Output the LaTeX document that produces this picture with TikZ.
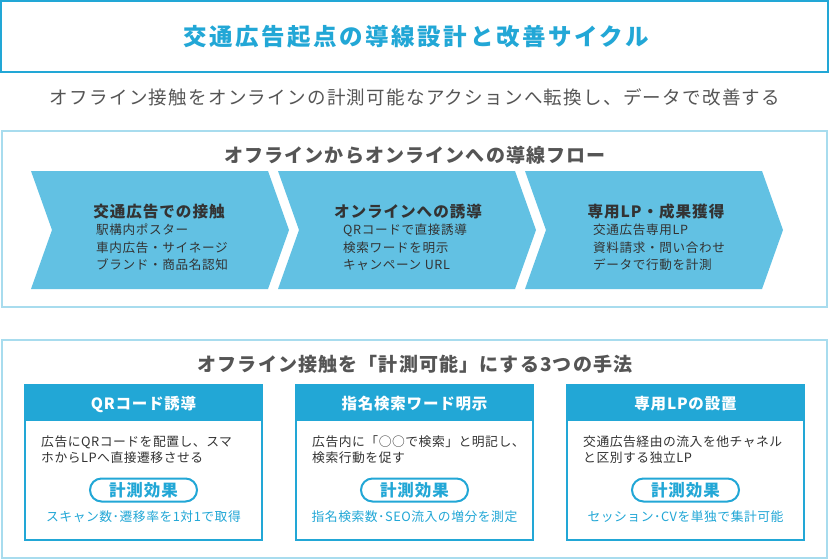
\documentclass[tikz,border=0pt]{standalone}
\usepackage{fontspec}
\setmainfont{Noto Sans CJK JP}
\newcommand\jpf[2]{\fontsize{#1}{#1}\selectfont\addfontfeature{LetterSpace=#2}}
\definecolor{mainblue}{HTML}{22A7D6}
\definecolor{lightline}{HTML}{A8DCEE}
\definecolor{chevfill}{HTML}{62C1E3}
\definecolor{darktxt}{HTML}{333333}
\definecolor{graytxt}{HTML}{555555}
\begin{document}
\begin{tikzpicture}[x=1pt,y=-1pt,
  titletxt/.style={font={\bfseries\jpf{23.5}{11}}, text=mainblue, inner sep=0},
  subtxt/.style={font={\jpf{18.5}{7}}, text=graytxt, inner sep=0},
  paneltitle/.style={font={\bfseries\jpf{19}{6}}, text=graytxt, inner sep=0},
  chevtitle/.style={font={\bfseries\jpf{15.6}{6}}, text=darktxt, inner sep=0},
  chevitem/.style={font={\jpf{12.6}{5}}, text=darktxt, inner sep=0, anchor=west},
  chev/.style={fill=chevfill},
  panelline/.style={draw=lightline, line width=2pt},
  cardline/.style={draw=mainblue, line width=2pt},
  headtxt/.style={font={\bfseries\jpf{15.5}{5}}, text=white, inner sep=0},
  bodytxt/.style={font={\jpf{12.8}{4}}, text=darktxt, inner sep=0, anchor=west},
  pill/.style={draw=mainblue, line width=2pt, fill=white, rounded corners=11.5pt, minimum width=107pt, minimum height=23pt, font={\bfseries\jpf{16.5}{6}}, text=mainblue, inner sep=0},
  effecttxt/.style={font={\jpf{12.8}{4}}, text=mainblue, inner sep=0}
]
\useasboundingbox[fill=white] (0,0) rectangle (829,559);

% title
\draw[draw=mainblue, line width=2pt] (1,1) rectangle (828,72);
\node[titletxt] (title) at (416,37) {交通広告起点の導線設計と改善サイクル};
\node[subtxt] (sub) at (415,97) {オフライン接触をオンラインの計測可能なアクションへ転換し、データで改善する};

% flow panel
\draw[panelline] (2,131) rectangle (827,307);
\node[paneltitle] (p1title) at (415,155) {オフラインからオンラインへの導線フロー};
\foreach \L in {31,278,525}{
  \fill[chev] (\L,171) -- ++(237,0) -- ++(21,59) -- ++(-21,59) -- ++(-237,0) -- ++(21,-59) -- cycle;
}
\node[chevtitle] (c1t) at (159,212) {交通広告での接触};
\node[chevitem] (c1a) at (96,230) {駅構内ポスター};
\node[chevitem] (c1b) at (96,248) {車内広告・サイネージ};
\node[chevitem] (c1c) at (96,265) {ブランド・商品名認知};

\node[chevtitle] (c2t) at (408,212) {オンラインへの誘導};
\node[chevitem] (c2a) at (343,230) {QRコードで直接誘導};
\node[chevitem] (c2b) at (343,248) {検索ワードを明示};
\node[chevitem] (c2c) at (343,265) {キャンペーン URL};

\node[chevtitle] (c3t) at (656,212) {専用LP・成果獲得};
\node[chevitem] (c3a) at (593,230) {交通広告専用LP};
\node[chevitem] (c3b) at (593,248) {資料請求・問い合わせ};
\node[chevitem] (c3c) at (593,265) {データで行動を計測};

% methods panel
\draw[panelline] (2,340) rectangle (827,558);
\node[paneltitle] (p2title) at (415,364) {オフライン接触を「計測可能」にする3つの手法};
\foreach \L in {25,296,567}{
  \fill[white] (\L,385) rectangle ++(237,155);
  \fill[mainblue] (\L,385) rectangle ++(237,36);
  \draw[cardline] (\L,385) rectangle ++(237,155);
}
% card 1
\node[headtxt] (h1) at (143.5,404) {QRコード誘導};
\node[bodytxt] (b1a) at (41,442) {広告にQRコードを配置し、スマ};
\node[bodytxt] (b1b) at (41,458) {ホからLPへ直接遷移させる};
\node[pill] (e1) at (143.5,490) {計測効果};
\node[effecttxt] (r1) at (143.5,517) {スキャン数･遷移率を1対1で取得};
% card 2
\node[headtxt] (h2) at (414.5,404) {指名検索ワード明示};
\node[bodytxt] (b2a) at (312,442) {広告内に「○○で検索」と明記し、};
\node[bodytxt] (b2b) at (312,458) {検索行動を促す};
\node[pill] (e2) at (414.5,490) {計測効果};
\node[effecttxt] (r2) at (414.5,517) {指名検索数･SEO流入の増分を測定};
% card 3
\node[headtxt] (h3) at (685.5,404) {専用LPの設置};
\node[bodytxt] (b3a) at (583,442) {交通広告経由の流入を他チャネル};
\node[bodytxt] (b3b) at (583,458) {と区別する独立LP};
\node[pill] (e3) at (685.5,490) {計測効果};
\node[effecttxt] (r3) at (685.5,517) {セッション･CVを単独で集計可能};
\end{tikzpicture}
\end{document}
